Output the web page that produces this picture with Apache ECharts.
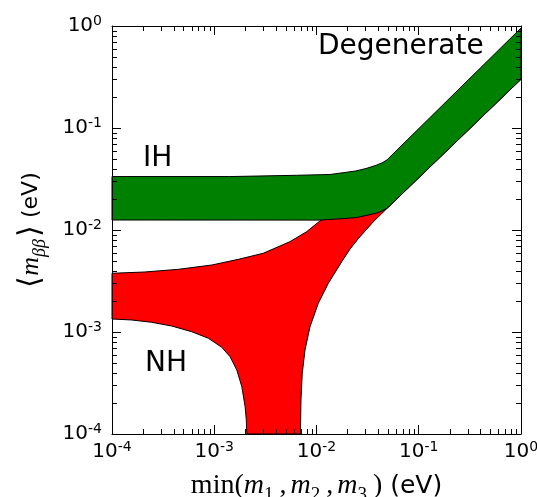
<!DOCTYPE html>
<html>
<head>
<meta charset="utf-8">
<script src="https://cdn.jsdelivr.net/npm/echarts@6/dist/echarts.min.js"></script>
<style>
html, body { margin: 0; padding: 0; background: #fff; }
#chart { width: 537px; height: 497px; }
</style>
</head>
<body>
<div id="chart"></div>
<script>
// Effective Majorana mass vs. lightest neutrino mass (both in eV).
// Each band boundary is a list of [m_lightest, m_bb] points.

// Inverted hierarchy band
const ihUpper = [
  [1e-4, 0.0334], [1.42e-3, 0.0334], [6.40e-3, 0.03438], [0.01356, 0.03501],
  [0.02413, 0.03788], [0.03057, 0.04009], [0.03832, 0.04309], [0.04387, 0.04560],
  [0.04877, 0.04857], [1, 0.956]
];
const ihLower = [
  [1e-4, 0.01253], [0.01082, 0.0125], [0.01903, 0.01297], [0.02478, 0.01326],
  [0.03057, 0.01387], [0.03890, 0.01468], [0.04387, 0.01536], [0.04967, 0.01651],
  [1, 0.300]
];

// Normal hierarchy band, upper edge (the part past 0.011 eV lies under the IH band)
const nhUpper = [
  [1e-4, 0.003763], [2.097e-4, 0.003875], [4.457e-4, 0.004117], [9.45e-4, 0.004537],
  [1.727e-3, 0.005161], [3.009e-3, 0.005909], [5.497e-3, 0.007681], [8.014e-3, 0.009623],
  [9.24e-3, 0.01082], [0.01082, 0.01226], [0.02, 0.021], [0.05, 0.040], [1, 0.90]
];
// lower edge, left branch (drops into the cancellation region)
const nhLowerLeft = [
  [1e-4, 0.001341], [1.553e-4, 0.001312], [2.439e-4, 0.001245], [3.832e-4, 0.001145],
  [6.017e-4, 0.001007], [8.77e-4, 8.68e-4], [1.184e-3, 7.08e-4], [1.429e-3, 5.727e-4],
  [1.662e-3, 4.240e-4], [1.861e-3, 2.909e-4], [2.004e-3, 1.852e-4], [2.059e-3, 1.372e-4],
  [2.083e-3, 1e-4]
];
// lower edge, right branch (rises out of the cancellation region)
const nhLowerRight = [
  [6.967e-3, 1e-4], [7.047e-3, 2.154e-4], [7.257e-3, 3.936e-4], [7.717e-3, 6.66e-4],
  [8.636e-3, 1.127e-3], [0.01041, 1.911e-3], [0.01305, 3.002e-3], [0.01766, 4.889e-3],
  [0.02130, 6.513e-3], [0.02570, 8.254e-3], [0.03580, 0.01198], [0.04967, 0.01651],
  [1, 0.300]
];

// Axis ranges and tick labels (powers of ten)
const xRange = [1e-4, 1];
const yRange = [1e-4, 1];
const decadeExponents = ['-4', '-3', '-2', '-1', '0'];
const minorMantissas = [2, 3, 4, 5, 6, 7, 8, 9];
const minorDecades = [1e-4, 1e-3, 1e-2, 1e-1];

const bandLabels = ['Degenerate', 'IH', 'NH'];

const minorValues = [];
minorDecades.forEach(d => minorMantissas.forEach(m => minorValues.push(m * d)));

const redPolygon = nhUpper
  .concat(nhLowerRight.slice().reverse())
  .concat(nhLowerLeft.slice().reverse());
const greenPolygon = ihUpper.concat(ihLower.slice().reverse());

function expOf(v) {
  const e = Math.round(Math.log10(v));
  return decadeExponents[e + 4];
}

const tickRich = {
  b: { fontFamily: 'DejaVu Sans', fontSize: 20, lineHeight: 24, color: '#000' },
  s: { fontFamily: 'DejaVu Sans', fontSize: 14, lineHeight: 12, verticalAlign: 'top', color: '#000' }
};

function makeAxis(dim, pos, showLabel, range) {
  return {
    type: 'log',
    logBase: 10,
    position: pos,
    min: range[0],
    max: range[1],
    splitNumber: 4,
    z: 5,
    axisLine: { show: true, onZero: false, lineStyle: { color: '#000', width: 1 } },
    axisTick: { show: true, inside: true, length: 9, lineStyle: { color: '#000', width: 1 } },
    minorTick: { show: false },
    splitLine: { show: false },
    axisLabel: {
      show: showLabel,
      margin: dim === 'x' ? 6 : 10,
      formatter: v => '{b|10}{s|' + expOf(v) + '}',
      rich: tickRich
    }
  };
}

function polygonSeries(points, fill) {
  return {
    type: 'custom',
    z: 2,
    silent: true,
    data: [0],
    renderItem: function (params, api) {
      const pts = points.map(p => api.coord(p));
      return {
        type: 'polygon',
        shape: { points: pts },
        style: { fill: fill, stroke: '#000', lineWidth: 1 }
      };
    }
  };
}

function minorTickSeries(dim) {
  return {
    type: 'custom',
    z: 6,
    silent: true,
    data: minorValues,
    renderItem: function (params, api) {
      const v = minorValues[params.dataIndex];
      const cs = params.coordSys;
      const len = 5;
      const style = { stroke: '#000', lineWidth: 1 };
      if (dim === 'x') {
        const px = Math.round(api.coord([v, 1e-2])[0]) + 0.5;
        return {
          type: 'group',
          children: [
            { type: 'line', shape: { x1: px, y1: cs.y + cs.height, x2: px, y2: cs.y + cs.height - len }, style: style },
            { type: 'line', shape: { x1: px, y1: cs.y, x2: px, y2: cs.y + len }, style: style }
          ]
        };
      }
      const py = Math.round(api.coord([1e-2, v])[1]) + 0.5;
      return {
        type: 'group',
        children: [
          { type: 'line', shape: { x1: cs.x, y1: py, x2: cs.x + len, y2: py }, style: style },
          { type: 'line', shape: { x1: cs.x + cs.width, y1: py, x2: cs.x + cs.width - len, y2: py }, style: style }
        ]
      };
    }
  };
}

const chart = echarts.init(document.getElementById('chart'), null, { renderer: 'canvas' });

const xBottom = makeAxis('x', 'bottom', true, xRange);
xBottom.name = '{r|min(}{i|m}{sb|1}{c|,}{i|m}{sb|2}{c|,}{i|m}{sb|3}{r|)}{t| (eV)}';
xBottom.nameLocation = 'middle';
xBottom.nameGap = 37;
xBottom.nameTextStyle = {
  color: '#000',
  rich: {
    r: { fontFamily: 'Liberation Serif', fontSize: 28, lineHeight: 30, color: '#000' },
    c: { fontFamily: 'Liberation Serif', fontSize: 28, lineHeight: 30, padding: [0, 4, 0, 0], color: '#000' },
    i: { fontFamily: 'Liberation Serif', fontStyle: 'italic', fontSize: 28, lineHeight: 30, color: '#000' },
    sb: { fontFamily: 'Liberation Serif', fontSize: 19, lineHeight: 14, verticalAlign: 'top', padding: [15, 6, 0, 0], color: '#000' },
    t: { fontFamily: 'DejaVu Sans', fontSize: 25, lineHeight: 30, color: '#000' }
  }
};

const yLeft = makeAxis('y', 'left', true, yRange);
yLeft.name = '{ang|\u27E8}{i|m}{sb|\u03B2\u03B2}{ang|\u27E9}{t| (eV)}';
yLeft.nameLocation = 'middle';
yLeft.nameGap = 64;
yLeft.nameRotate = 90;
yLeft.nameTextStyle = {
  color: '#000',
  rich: {
    ang: { fontFamily: 'DejaVu Sans', fontWeight: 200, fontSize: 30, lineHeight: 34, color: '#000' },
    i: { fontFamily: 'Liberation Serif', fontStyle: 'italic', fontSize: 26, lineHeight: 34, color: '#000' },
    sb: { fontFamily: 'Liberation Serif', fontStyle: 'italic', fontSize: 18, lineHeight: 14, verticalAlign: 'top', padding: [17, 2, 0, 0], color: '#000' },
    t: { fontFamily: 'DejaVu Sans', fontSize: 22, lineHeight: 34, color: '#000' }
  }
};

chart.setOption({
  animation: false,
  backgroundColor: '#fff',
  grid: { left: 112, right: 16, top: 26, bottom: 63, containLabel: false, outerBoundsMode: 'none' },
  xAxis: [xBottom, makeAxis('x', 'top', false, xRange)],
  yAxis: [yLeft, makeAxis('y', 'right', false, yRange)],
  series: [
    polygonSeries(redPolygon, '#ff0000'),
    polygonSeries(greenPolygon, '#008000'),
    minorTickSeries('x'),
    minorTickSeries('y')
  ],
  graphic: [
    { type: 'text', x: 318, y: 47, style: { text: bandLabels[0], font: '28px "DejaVu Sans"', fill: '#000', textVerticalAlign: 'middle' } },
    { type: 'text', x: 143, y: 159, style: { text: bandLabels[1], font: '28px "DejaVu Sans"', fill: '#000', textVerticalAlign: 'middle' } },
    { type: 'text', x: 145, y: 364, style: { text: bandLabels[2], font: '28px "DejaVu Sans"', fill: '#000', textVerticalAlign: 'middle' } }
  ]
});
</script>
</body>
</html>
